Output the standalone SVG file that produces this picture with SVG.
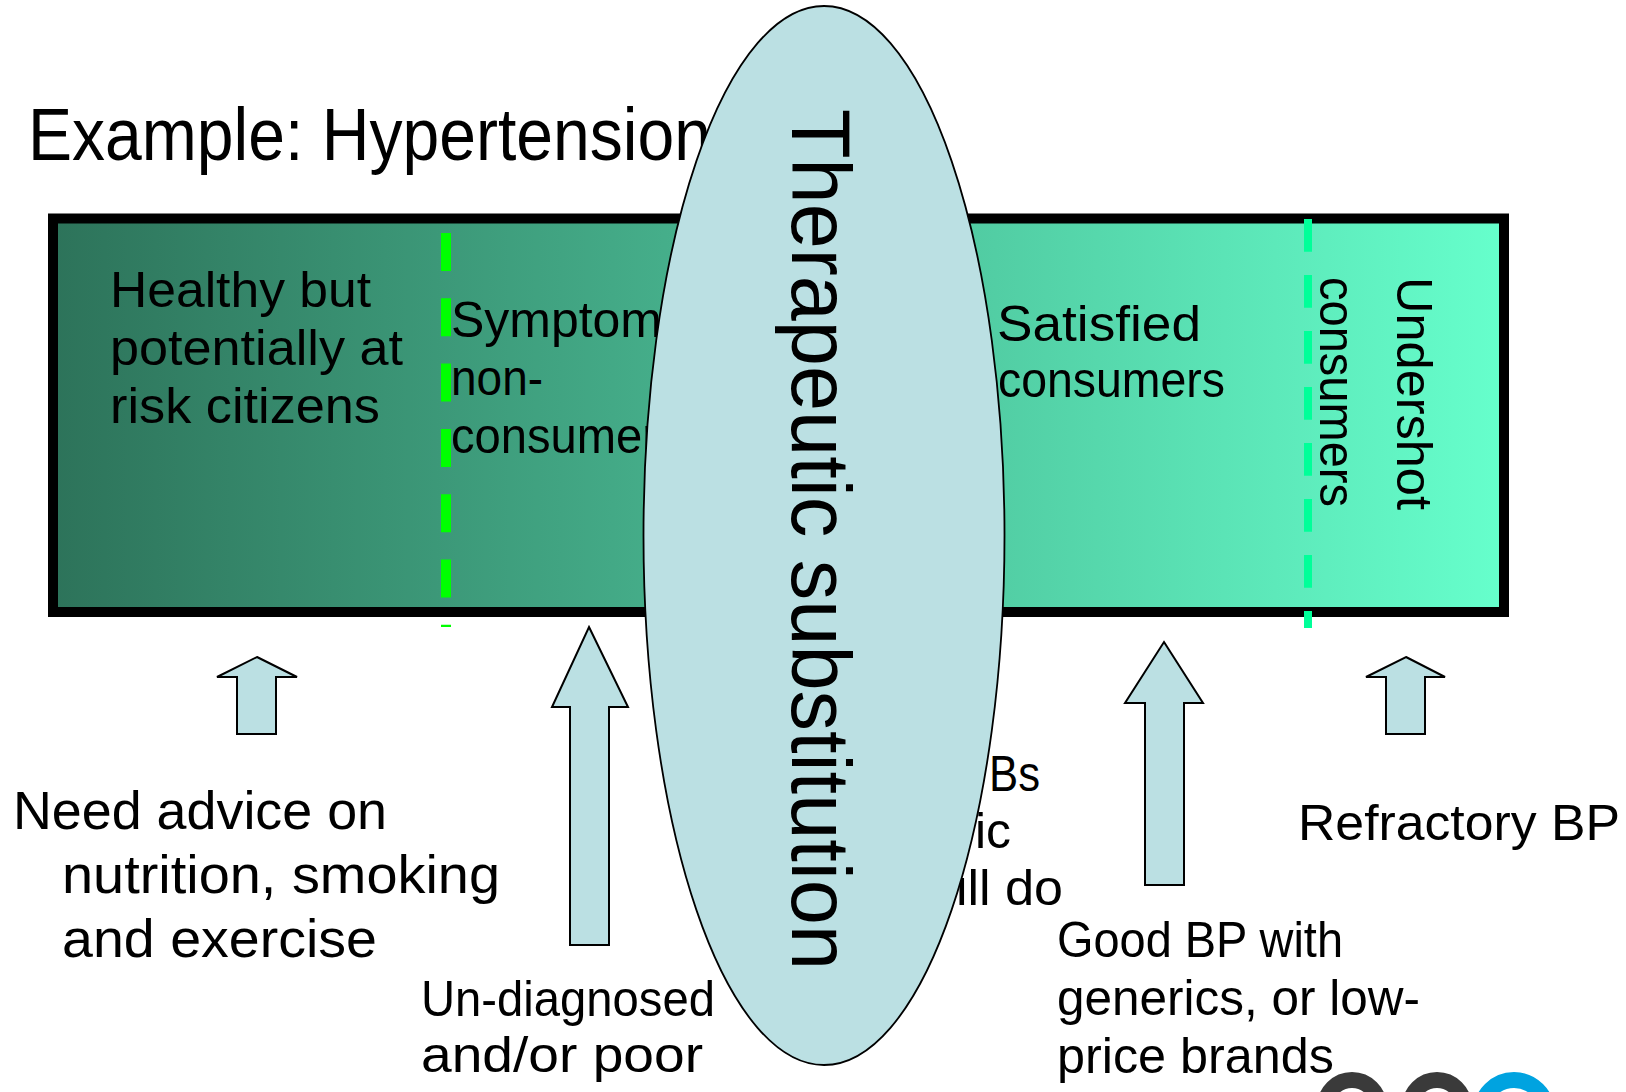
<svg xmlns="http://www.w3.org/2000/svg" width="1626" height="1092" viewBox="0 0 1626 1092">
  <defs>
    <linearGradient id="bandFill" x1="0" y1="0" x2="1" y2="0">
      <stop offset="0" stop-color="#2d735a"/>
      <stop offset="1" stop-color="#66ffcc"/>
    </linearGradient>
  </defs>
  <style>
    text { font-family: "Liberation Sans", "DejaVu Sans", sans-serif; fill: #000; }
    .body { font-size: 50px; }
    .big { font-size: 53px; }
    .title { font-size: 74px; }
    .oval-label { font-size: 83px; }
    .band { fill: url(#bandFill); stroke: #000; stroke-width: 10; }
    .split-a { stroke: #00ff00; stroke-width: 10; stroke-dasharray: 38 27.3; fill: none; }
    .split-b { stroke: #00ff99; stroke-width: 8; stroke-dasharray: 32.7 23.3; fill: none; }
    .oval { fill: #bbe0e3; stroke: #000; stroke-width: 1.8; }
    .block-arrow { fill: #bbe0e3; stroke: #000; stroke-width: 2; stroke-linejoin: miter; }
    .logo-dark { fill: none; stroke: #3a3a3a; stroke-width: 16; }
    .logo-blue { fill: none; stroke: #00a3e0; stroke-width: 16; }
  </style>

  <rect width="1626" height="1092" fill="#ffffff"/>

  <!-- heading -->
  <g id="heading">
    <text class="title" x="28" y="160" textLength="683" lengthAdjust="spacingAndGlyphs">Example: Hypertension</text>
  </g>

  <!-- consumer spectrum band -->
  <g id="spectrum-band">
    <rect class="band" x="53" y="218.5" width="1451" height="393.5"/>
  </g>

  <!-- segment dividers -->
  <g id="dividers">
    <line class="split-a" x1="446" y1="233" x2="446" y2="627"/>
    <line class="split-b" x1="1308" y1="219" x2="1308" y2="628"/>
  </g>

  <g id="segment-healthy">
    <text class="body" x="110" y="307" textLength="261" lengthAdjust="spacingAndGlyphs">Healthy but</text>
    <text class="body" x="110" y="365" textLength="293" lengthAdjust="spacingAndGlyphs">potentially at</text>
    <text class="body" x="110" y="423" textLength="270" lengthAdjust="spacingAndGlyphs">risk citizens</text>
  </g>

  <g id="segment-symptom">
    <text class="body" x="451" y="337" textLength="211" lengthAdjust="spacingAndGlyphs">Symptom</text>
    <text class="body" x="451" y="395" textLength="92" lengthAdjust="spacingAndGlyphs">non-</text>
    <text class="body" x="451" y="453" textLength="207" lengthAdjust="spacingAndGlyphs">consumer</text>
  </g>

  <g id="segment-satisfied">
    <text class="body" x="997" y="341" textLength="204" lengthAdjust="spacingAndGlyphs">Satisfied</text>
    <text class="body" x="998" y="397" textLength="227" lengthAdjust="spacingAndGlyphs">consumers</text>
  </g>

  <g id="segment-undershot">
    <text class="body" transform="translate(1320,277) rotate(90)" textLength="230" lengthAdjust="spacingAndGlyphs">consumers</text>
    <text class="body" transform="translate(1397,277) rotate(90)" textLength="233" lengthAdjust="spacingAndGlyphs">Undershot</text>
  </g>

  <!-- label partly behind the oval -->
  <g id="label-generic">
    <text class="body" x="989" y="791" textLength="51" lengthAdjust="spacingAndGlyphs">Bs</text>
    <text class="body" x="975" y="848" textLength="36" lengthAdjust="spacingAndGlyphs">ic</text>
    <text class="body" x="956" y="905" textLength="107" lengthAdjust="spacingAndGlyphs">ill do</text>
  </g>

  <!-- therapeutic substitution oval -->
  <g id="therapeutic-substitution">
    <ellipse class="oval" cx="824" cy="535.5" rx="180.5" ry="529.5"/>
    <text class="oval-label" transform="translate(792,539.5) rotate(90)" text-anchor="middle" textLength="861" lengthAdjust="spacingAndGlyphs">Therapeutic substitution</text>
  </g>

  <!-- upward block arrows -->
  <g id="connectors">
    <polygon class="block-arrow" points="257,657 297,677 276,677 276,734 237,734 237,677 217,677"/>
    <polygon class="block-arrow" points="589,627 628,707 609,707 609,945 570,945 570,707 552,707"/>
    <polygon class="block-arrow" points="1164,642 1203,703 1184,703 1184,885 1145,885 1145,703 1125,703"/>
    <polygon class="block-arrow" points="1406,657 1445,677 1425,677 1425,734 1386,734 1386,677 1366,677"/>
  </g>

  <g id="label-advice">
    <text class="big" x="13" y="829" textLength="374" lengthAdjust="spacingAndGlyphs">Need advice on</text>
    <text class="big" x="62" y="893" textLength="438" lengthAdjust="spacingAndGlyphs">nutrition, smoking</text>
    <text class="big" x="62" y="957" textLength="315" lengthAdjust="spacingAndGlyphs">and exercise</text>
  </g>

  <g id="label-undiagnosed">
    <text class="body" x="421" y="1016" textLength="294" lengthAdjust="spacingAndGlyphs">Un-diagnosed</text>
    <text class="body" x="421" y="1072" textLength="282" lengthAdjust="spacingAndGlyphs">and/or poor</text>
  </g>

  <g id="label-good-bp">
    <text class="body" x="1057" y="957" textLength="286" lengthAdjust="spacingAndGlyphs">Good BP with</text>
    <text class="body" x="1057" y="1015" textLength="363" lengthAdjust="spacingAndGlyphs">generics, or low-</text>
    <text class="body" x="1057" y="1073" textLength="277" lengthAdjust="spacingAndGlyphs">price brands</text>
  </g>

  <g id="label-refractory">
    <text class="body" x="1298" y="840" textLength="322" lengthAdjust="spacingAndGlyphs">Refractory BP</text>
  </g>

  <!-- corner logo, cut by the page edge -->
  <g id="corner-logo">
    <circle class="logo-dark" cx="1352" cy="1107" r="27"/>
    <circle class="logo-dark" cx="1437" cy="1107" r="27"/>
    <circle class="logo-blue" cx="1514" cy="1113" r="33"/>
  </g>
</svg>
